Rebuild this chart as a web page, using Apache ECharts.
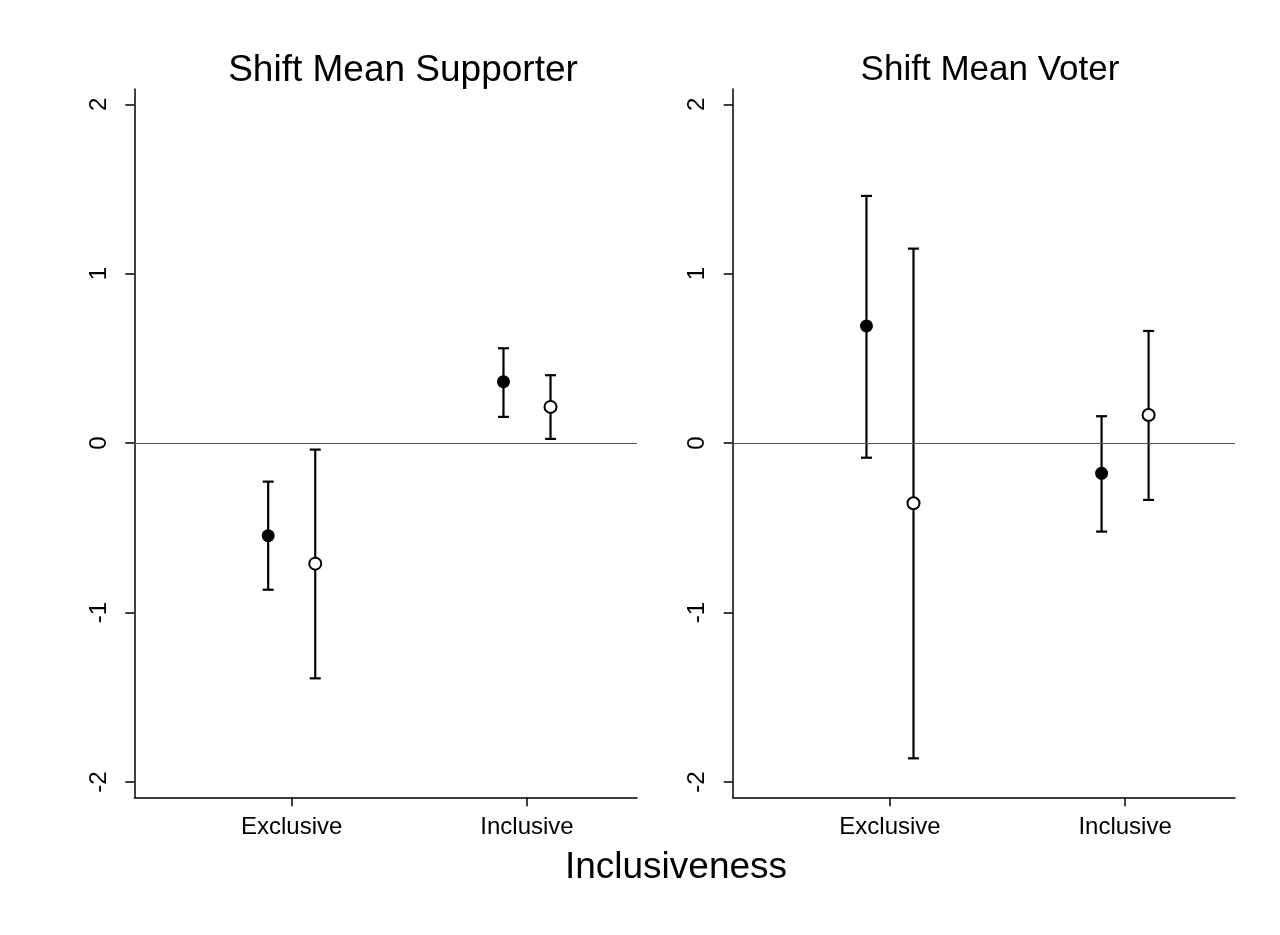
<!DOCTYPE html>
<html>
<head>
<meta charset="utf-8">
<script src="https://cdn.jsdelivr.net/npm/echarts@6/dist/echarts.min.js"></script>
<style>html,body{margin:0;padding:0;background:#fff}#c{width:1280px;height:935px}</style>
</head>
<body>
<div id="c"></div>
<script>
const categories = ['Exclusive', 'Inclusive'];
const panelTitles = ['Shift Mean Supporter', 'Shift Mean Voter'];
const xTitle = 'Inclusiveness';
const yTicks = [-2, -1, 0, 1, 2];

// Panel 1: Shift Mean Supporter
const supFilledMean = [-0.546, 0.363];
const supFilledLo   = [-0.865, 0.155];
const supFilledHi   = [-0.227, 0.560];
const supOpenMean   = [-0.711, 0.214];
const supOpenLo     = [-1.388, 0.025];
const supOpenHi     = [-0.038, 0.401];

// Panel 2: Shift Mean Voter
const votFilledMean = [0.692, -0.178];
const votFilledLo   = [-0.086, -0.522];
const votFilledHi   = [1.459, 0.159];
const votOpenMean   = [-0.355, 0.166];
const votOpenLo     = [-1.860, -0.335];
const votOpenHi     = [1.148, 0.662];

const dodge = 0.1;
const FONT = 'Liberation Sans, Arial, Helvetica, sans-serif';

function pts(means, sh) { return means.map((m, i) => [i + 1 + sh, m]); }
function bars(lo, hi, sh) { return lo.map((l, i) => [i + 1 + sh, l, hi[i]]); }

function renderBar(params, api) {
  const x = api.value(0), lo = api.value(1), hi = api.value(2);
  const a = api.coord([x, lo]), b = api.coord([x, hi]);
  const cw = 5.5;
  const st = { stroke: '#000', lineWidth: 2.2 };
  return { type: 'group', children: [
    { type: 'line', shape: { x1: a[0], y1: a[1], x2: b[0], y2: b[1] }, style: st },
    { type: 'line', shape: { x1: a[0] - cw, y1: a[1], x2: a[0] + cw, y2: a[1] }, style: st },
    { type: 'line', shape: { x1: b[0] - cw, y1: b[1], x2: b[0] + cw, y2: b[1] }, style: st }
  ]};
}

const grids = [
  { left: 134.3, right: 643, top: 89, bottom: 137.7 },
  { left: 732.7, right: 45, top: 89, bottom: 137.7 }
];

function xAxis(i) {
  return {
    type: 'value', gridIndex: i, min: 0.331, max: 2.4675,
    splitLine: { show: false },
    axisLine: { show: true, onZero: false, lineStyle: { color: '#000', width: 1.5 } },
    axisTick: { show: true, length: 9, customValues: [1, 2], lineStyle: { color: '#000', width: 1.5 } },
    axisLabel: { show: true, customValues: [1, 2], margin: 18, fontSize: 24, color: '#000', fontFamily: FONT,
      formatter: v => categories[Math.round(v) - 1] }
  };
}
function yAxis(i) {
  return {
    type: 'value', gridIndex: i, min: -2.09, max: 2.09,
    splitLine: { show: false },
    axisLine: { show: true, onZero: false, lineStyle: { color: '#000', width: 1.5 } },
    axisTick: { show: true, length: 9, customValues: yTicks, lineStyle: { color: '#000', width: 1.5 } },
    axisLabel: { show: true, customValues: yTicks, rotate: 90, margin: 23, fontSize: 24, color: '#000', fontFamily: FONT }
  };
}

const zeroLine = {
  silent: true, symbol: ['none', 'none'], label: { show: false },
  lineStyle: { color: '#555', width: 1, type: 'solid' }, data: [{ yAxis: 0 }]
};

function panelSeries(i, fm, flo, fhi, om, olo, ohi) {
  return [
    { type: 'custom', xAxisIndex: i, yAxisIndex: i, renderItem: renderBar, data: bars(flo, fhi, -dodge), z: 2, markLine: zeroLine },
    { type: 'custom', xAxisIndex: i, yAxisIndex: i, renderItem: renderBar, data: bars(olo, ohi, dodge), z: 2 },
    { type: 'scatter', xAxisIndex: i, yAxisIndex: i, data: pts(fm, -dodge), symbol: 'circle', symbolSize: 13,
      itemStyle: { color: '#000', opacity: 1 }, z: 5 },
    { type: 'scatter', xAxisIndex: i, yAxisIndex: i, data: pts(om, dodge), symbol: 'circle', symbolSize: 12,
      itemStyle: { color: '#fff', borderColor: '#000', borderWidth: 2, opacity: 1 }, z: 5 }
  ];
}

const chart = echarts.init(document.getElementById('c'), null, { renderer: 'canvas' });
chart.setOption({
  backgroundColor: '#fff',
  animation: false,
  title: [
    { text: panelTitles[0], left: 398, top: 47, textAlign: 'center',
      textStyle: { fontSize: 37, fontWeight: 'normal', color: '#000', fontFamily: FONT } },
    { text: panelTitles[1], left: 985, top: 48, textAlign: 'center',
      textStyle: { fontSize: 35, fontWeight: 'normal', color: '#000', fontFamily: FONT } },
    { text: xTitle, left: 671, top: 844, textAlign: 'center',
      textStyle: { fontSize: 37, fontWeight: 'normal', color: '#000', fontFamily: FONT } }
  ],
  grid: grids,
  xAxis: [xAxis(0), xAxis(1)],
  yAxis: [yAxis(0), yAxis(1)],
  series: [].concat(
    panelSeries(0, supFilledMean, supFilledLo, supFilledHi, supOpenMean, supOpenLo, supOpenHi),
    panelSeries(1, votFilledMean, votFilledLo, votFilledHi, votOpenMean, votOpenLo, votOpenHi)
  )
});
</script>
</body>
</html>
